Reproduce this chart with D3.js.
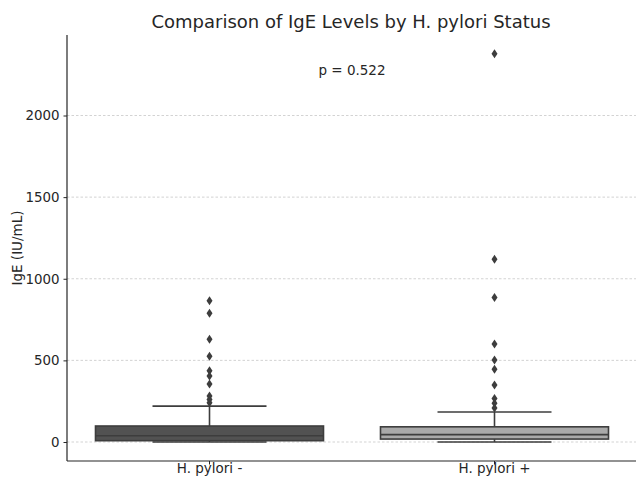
<!DOCTYPE html>
<html>
<head>
<meta charset="utf-8">
<script src="https://cdn.jsdelivr.net/npm/d3@7"></script>
<style>
  body { margin: 0; background: #fff; }
  text { font-family: "DejaVu Sans", sans-serif; fill: #262626; }
</style>
</head>
<body>
<div id="chart"></div>
<script>
// Daten
const groups = ["H. pylori -", "H. pylori +"];
const boxStats = [
  { q1: 8, median: 38, q3: 98, lo: 0, hi: 220 },
  { q1: 18, median: 45, q3: 93, lo: 0, hi: 184 }
];
const outliers = [
  [865, 788, 629, 526, 436, 404, 355, 282, 261, 240],
  [2379, 1120, 885, 600, 502, 445, 349, 267, 237, 208]
];
const boxColors = ["#525252", "#a9a9a9"];
const yTicks = [0, 500, 1000, 1500, 2000];

const width = 636, height = 477;
const svg = d3.select("#chart").append("svg")
  .attr("width", width).attr("height", height);

const x = d3.scaleBand().domain(groups).range([67, 637]).paddingInner(0).paddingOuter(0);
const y = d3.scaleLinear().domain([0, 2000]).range([442, 115.5]);
const yTop = y.invert(35), yBot = y.invert(461);
y.domain([yBot, yTop]).range([461, 35]);

const boxW = x.bandwidth() * 0.8;
const capW = boxW / 2;
const lineCol = "#3d3d3d";

// Gitterlinien
svg.append("g").selectAll("line")
  .data(yTicks).enter().append("line")
  .attr("x1", 67).attr("x2", width)
  .attr("y1", d => y(d)).attr("y2", d => y(d))
  .style("stroke", "#c8c8c8").style("stroke-width", 0.8)
  .style("stroke-dasharray", "2.5,2");

// Achsen
const yAxis = svg.append("g").attr("transform", "translate(67,0)")
  .call(d3.axisLeft(y).tickValues(yTicks).tickFormat(d3.format("d")).tickSize(3.5).tickPadding(4));
yAxis.select(".domain").attr("d", "M0,35V461").style("stroke", "#262626").style("stroke-width", 1.2);
yAxis.selectAll(".tick line").style("stroke", "#262626");
yAxis.selectAll("text").style("font-size", "13.4px").style("font-family", "DejaVu Sans");

const xAxis = svg.append("g").attr("transform", "translate(0,461)")
  .call(d3.axisBottom(x).tickSize(3.5).tickPadding(0));
xAxis.select(".domain").attr("d", "M67,0H" + width).style("stroke", "#262626").style("stroke-width", 1.2);
xAxis.selectAll(".tick line").style("stroke", "#262626");
xAxis.selectAll("text").style("font-size", "13.5px").style("font-family", "DejaVu Sans")
  .attr("dy", "0.6em");

// Boxplots
const g = svg.append("g");
boxStats.forEach((s, i) => {
  const cx = x(groups[i]) + x.bandwidth() / 2;
  // whiskers
  g.append("line").attr("x1", cx).attr("x2", cx).attr("y1", y(s.q3)).attr("y2", y(s.hi))
    .style("stroke", lineCol).style("stroke-width", 1.6);
  g.append("line").attr("x1", cx).attr("x2", cx).attr("y1", y(s.q1)).attr("y2", y(s.lo))
    .style("stroke", lineCol).style("stroke-width", 1.6);
  [s.hi, s.lo].forEach(v => {
    g.append("line").attr("x1", cx - capW / 2).attr("x2", cx + capW / 2)
      .attr("y1", y(v)).attr("y2", y(v))
      .style("stroke", lineCol).style("stroke-width", 1.6);
  });
  g.append("rect")
    .attr("x", cx - boxW / 2).attr("width", boxW)
    .attr("y", y(s.q3)).attr("height", y(s.q1) - y(s.q3))
    .style("fill", boxColors[i]).style("stroke", lineCol).style("stroke-width", 1.6);
  g.append("line").attr("x1", cx - boxW / 2).attr("x2", cx + boxW / 2)
    .attr("y1", y(s.median)).attr("y2", y(s.median))
    .style("stroke", lineCol).style("stroke-width", 1.6);

  // Ausreißer als Rauten
  g.selectAll(".fl" + i).data(outliers[i]).enter().append("path")
    .attr("class", "fl" + i)
    .attr("transform", d => `translate(${cx},${y(d)})`)
    .attr("d", "M0,-4.5L3,0L0,4.5L-3,0Z")
    .style("fill", lineCol);
});

// Titel und p-Wert
svg.append("text").attr("x", 351).attr("y", 28)
  .attr("text-anchor", "middle").style("font-size", "18px")
  .text("Comparison of IgE Levels by H. pylori Status");
svg.append("text").attr("x", 352).attr("y", 75)
  .attr("text-anchor", "middle").style("font-size", "13.5px")
  .text("p = 0.522");
svg.append("text")
  .attr("transform", "translate(22,248) rotate(-90)")
  .attr("text-anchor", "middle").style("font-size", "13.5px")
  .text("IgE (IU/mL)");
</script>
</body>
</html>
